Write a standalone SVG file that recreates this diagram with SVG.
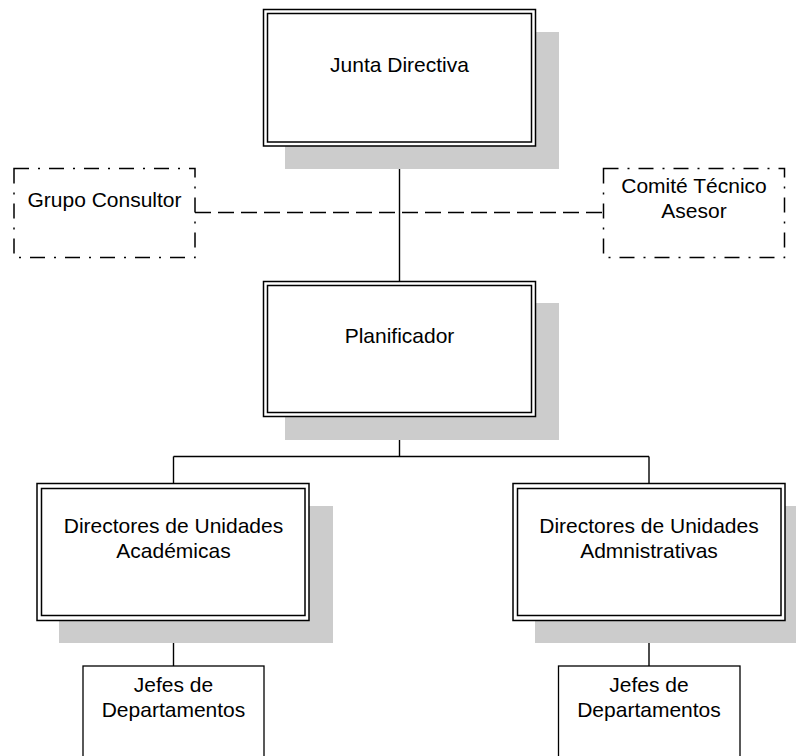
<svg xmlns="http://www.w3.org/2000/svg" width="796" height="756" viewBox="0 0 796 756">
  <style>
    .bg { fill: #ffffff; }
    .shadow { fill: #cccccc; stroke: none; }
    .frame { fill: #ffffff; stroke: #000000; stroke-width: 1.5; }
    .inner { fill: none; stroke: #000000; stroke-width: 1.5; }
    .advisor { fill: #ffffff; stroke: #000000; stroke-width: 1.5; stroke-dasharray: 15 9 2 9; }
    .plain { fill: #ffffff; stroke: #000000; stroke-width: 1.3; }
    .link { fill: none; stroke: #000000; stroke-width: 1.4; }
    .staff { fill: none; stroke: #000000; stroke-width: 1.4; stroke-dasharray: 16 7; }
    text { font-family: "Liberation Sans", Arial, sans-serif; font-size: 21px; fill: #000000; text-anchor: middle; }
  </style>

  <rect class="bg" x="0" y="0" width="796" height="756"/>

  <!-- connectors -->
  <g id="connectors">
    <line class="staff" x1="195" y1="212.5" x2="603" y2="212.5"/>
    <line class="link" x1="399.5" y1="146" x2="399.5" y2="281.5"/>
    <line class="link" x1="399.5" y1="417" x2="399.5" y2="456.5"/>
    <line class="link" x1="173.5" y1="456.5" x2="649" y2="456.5"/>
    <line class="link" x1="173.5" y1="456.5" x2="173.5" y2="483.5"/>
    <line class="link" x1="649" y1="456.5" x2="649" y2="483.5"/>
    <line class="link" x1="173.5" y1="621" x2="173.5" y2="666"/>
    <line class="link" x1="649" y1="621" x2="649" y2="666"/>
  </g>

  <g id="junta-directiva">
    <rect class="shadow" x="285" y="32" width="274" height="137"/>
    <rect class="frame" x="263.5" y="9.5" width="272" height="136.5"/>
    <rect class="inner" x="267.5" y="13.5" width="264" height="128.5"/>
    <text x="399.5" y="72">Junta Directiva</text>
  </g>

  <g id="grupo-consultor">
    <rect class="advisor" x="14" y="168.5" width="181" height="89"/>
    <text x="104.5" y="207">Grupo Consultor</text>
  </g>

  <g id="comite-tecnico">
    <rect class="advisor" x="603.5" y="168.5" width="181" height="89"/>
    <text x="694" y="193">Comité Técnico</text>
    <text x="694" y="218">Asesor</text>
  </g>

  <g id="planificador">
    <rect class="shadow" x="285" y="303" width="274" height="137"/>
    <rect class="frame" x="263.5" y="281.5" width="272" height="135"/>
    <rect class="inner" x="267.5" y="285.5" width="264" height="127"/>
    <text x="399.5" y="343">Planificador</text>
  </g>

  <g id="directores-academicas">
    <rect class="shadow" x="59" y="506" width="274" height="137"/>
    <rect class="frame" x="37" y="483.5" width="272" height="137"/>
    <rect class="inner" x="41.5" y="488.5" width="263.5" height="127"/>
    <text x="173.5" y="532.5">Directores de Unidades</text>
    <text x="173.5" y="558">Académicas</text>
  </g>

  <g id="directores-administrativas">
    <rect class="shadow" x="535" y="506" width="274" height="137"/>
    <rect class="frame" x="513" y="483.5" width="272" height="137"/>
    <rect class="inner" x="517.5" y="488.5" width="263.5" height="127"/>
    <text x="649" y="532.5">Directores de Unidades</text>
    <text x="649" y="558">Admnistrativas</text>
  </g>

  <g id="jefes-academicos">
    <rect class="plain" x="83" y="666" width="181" height="100"/>
    <text x="173.5" y="692">Jefes de</text>
    <text x="173.5" y="717">Departamentos</text>
  </g>

  <g id="jefes-administrativos">
    <rect class="plain" x="558.5" y="666" width="181.5" height="100"/>
    <text x="649" y="692">Jefes de</text>
    <text x="649" y="717">Departamentos</text>
  </g>
</svg>
